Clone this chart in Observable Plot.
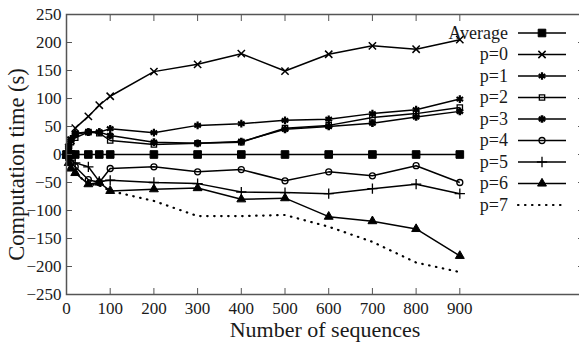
<!DOCTYPE html>
<html>
<head>
<meta charset="utf-8">
<script src="https://cdn.jsdelivr.net/npm/d3@7"></script>
<script src="https://cdn.jsdelivr.net/npm/@observablehq/plot@0.6"></script>
<style>
  html, body { margin: 0; padding: 0; background: #fff; }
  #chart { width: 579px; height: 346px; overflow: hidden; }
</style>
</head>
<body>
<div id="chart"></div>
<script>
// ---- data ----
const xValues = [0, 5, 10, 20, 50, 75, 100, 200, 300, 400, 500, 600, 700, 800, 900];
const seriesNames = ["Average", "p=0", "p=1", "p=2", "p=3", "p=4", "p=5", "p=6", "p=7"];
const average = [0, 0, 0, 0, 0, 0, 0, 0, 0, 0, 0, 0, 0, 0, 0];
const p0 = [0, 12, 25, 47, 68, 88, 104, 148, 161, 180, 149, 179, 194, 188, 205];
const p1 = [0, 15, 28, 38, 40, 40, 46, 39, 52, 55, 61, 63, 73, 80, 99];
const p2 = [0, 10, 22, 30, 40, 38, 25, 18, 20, 22, 47, 52, 66, 73, 84];
const p3 = [0, 12, 25, 36, 40, 40, 34, 22, 20, 23, 45, 50, 56, 67, 77];
const p4 = [0, -8, -15, -22, -45, -50, -25, -22, -31, -27, -47, -31, -38, -20, -50];
const p5 = [0, -5, -10, -15, -22, -48, -46, -50, -52, -67, -68, -70, -61, -53, -70];
const p6 = [-2, -15, -25, -33, -53, -50, -65, -62, -60, -80, -78, -111, -119, -133, -181];
const p7 = [-2, -15, -25, -33, -53, -55, -65, -83, -110, -110, -108, -129, -156, -193, -210];
const seriesValues = [average, p0, p1, p2, p3, p4, p5, p6, p7];
const xTicks = [0, 100, 200, 300, 400, 500, 600, 700, 800, 900];
const yTicks = [-250, -200, -150, -100, -50, 0, 50, 100, 150, 200, 250];

// ---- styles ----
const styles = {
  "Average": {symbol: "square", r: 4.3, fill: "black", sw: 1},
  "p=0": {symbol: "times", r: 3.4, fill: "none", sw: 1.5},
  "p=1": {symbol: "asterisk", r: 3.6, fill: "none", sw: 2.2},
  "p=2": {symbol: "square", r: 3.0, fill: "none", sw: 1.3},
  "p=3": {symbol: "asterisk", r: 3.6, fill: "none", sw: 2.6},
  "p=4": {symbol: "circle", r: 3.0, fill: "none", sw: 1.3},
  "p=5": {symbol: "plus", r: 3.4, fill: "none", sw: 1.3},
  "p=6": {symbol: "triangle", r: 3.3, fill: "black", sw: 1},
  "p=7": {symbol: null, dash: "0.5,6.5"}
};

const rows = [];
seriesNames.forEach((name, si) => {
  seriesValues[si].forEach((v, i) => rows.push({series: name, x: xValues[i], y: v}));
});

const marks = [];
const drawOrder = ["p=7", "p=6", "p=5", "p=4", "p=3", "p=2", "p=1", "p=0", "Average"];
drawOrder.forEach(name => {
  const st = styles[name];
  const d = rows.filter(r => r.series === name);
  marks.push(Plot.line(d, {x: "x", y: "y", stroke: "black", strokeWidth: name === "p=7" ? 2.2 : 1.5,
    strokeDasharray: st.dash || null, strokeLinecap: name === "p=7" ? "round" : "butt"}));
  if (st.symbol) {
    marks.push(Plot.dot(d, {x: "x", y: "y", symbol: st.symbol, r: st.r, fill: st.fill,
      stroke: "black", strokeWidth: st.sw}));
  }
});

const fontFamily = "Liberation Serif, Tinos, DejaVu Serif, serif";

const chart = Plot.plot({
  width: 579,
  height: 346,
  marginLeft: 66,
  marginRight: -4,
  marginTop: 14,
  marginBottom: 52,
  style: {fontFamily: fontFamily, fontSize: "17px", color: "#1a1a1a", background: "white", overflow: "hidden"},
  x: {domain: [0, 1183]},
  y: {domain: [-250, 250]},
  marks: [
    ...marks,
    Plot.frame({stroke: "#555", strokeWidth: 1.5}),
    Plot.axisX({anchor: "bottom", ticks: xTicks, tickSize: -6, tickPadding: 13, label: null, fontSize: 17, stroke: "#555", fontFamily}),
    Plot.axisX({anchor: "top", ticks: xTicks, tickSize: -6, tickFormat: () => "", label: null, stroke: "#555"}),
    Plot.axisY({anchor: "left", ticks: yTicks, tickSize: -6, tickPadding: 11, label: null, fontSize: 17, stroke: "#555", fontFamily}),
    Plot.axisY({anchor: "right", ticks: yTicks, tickSize: -6, tickFormat: () => "", label: null, stroke: "#555"}),
    Plot.text(["Number of sequences"], {frameAnchor: "bottom", textAnchor: "middle", lineAnchor: "middle", dy: 35, fontSize: 22, fill: "#1a1a1a", fontFamily}),
    Plot.text(["Computation time (s)"], {frameAnchor: "left", textAnchor: "middle", lineAnchor: "middle", rotate: -90, dx: -50, dy: 10, fontSize: 22.5, fill: "#1a1a1a", fontFamily})
  ]
});

document.getElementById("chart").appendChild(chart);

// ---- legend (inside the plot, top right) ----
const svg = d3.select(chart);
const symbolTypes = {square: d3.symbolSquare, times: d3.symbolTimes, asterisk: d3.symbolAsterisk,
  circle: d3.symbolCircle, plus: d3.symbolPlus, triangle: d3.symbolTriangle};
const leg = svg.append("g").attr("font-family", fontFamily).attr("font-size", 18);
seriesNames.forEach((name, i) => {
  const st = styles[name];
  const y = 33 + 21.5 * i;
  leg.append("text").attr("x", 508).attr("y", y).attr("dy", "0.32em")
    .attr("text-anchor", "end").attr("fill", "#1a1a1a").text(name);
  leg.append("line").attr("x1", 518).attr("x2", 566).attr("y1", y).attr("y2", y)
    .attr("stroke", "black").attr("stroke-width", name === "p=7" ? 2.2 : 1.5)
    .attr("stroke-dasharray", st.dash || null)
    .attr("stroke-linecap", name === "p=7" ? "round" : "butt");
  if (st.symbol) {
    leg.append("path")
      .attr("transform", `translate(542,${y})`)
      .attr("d", d3.symbol(symbolTypes[st.symbol], Math.PI * st.r * st.r)())
      .attr("fill", st.fill).attr("stroke", "black").attr("stroke-width", st.sw);
  }
});
</script>
</body>
</html>
